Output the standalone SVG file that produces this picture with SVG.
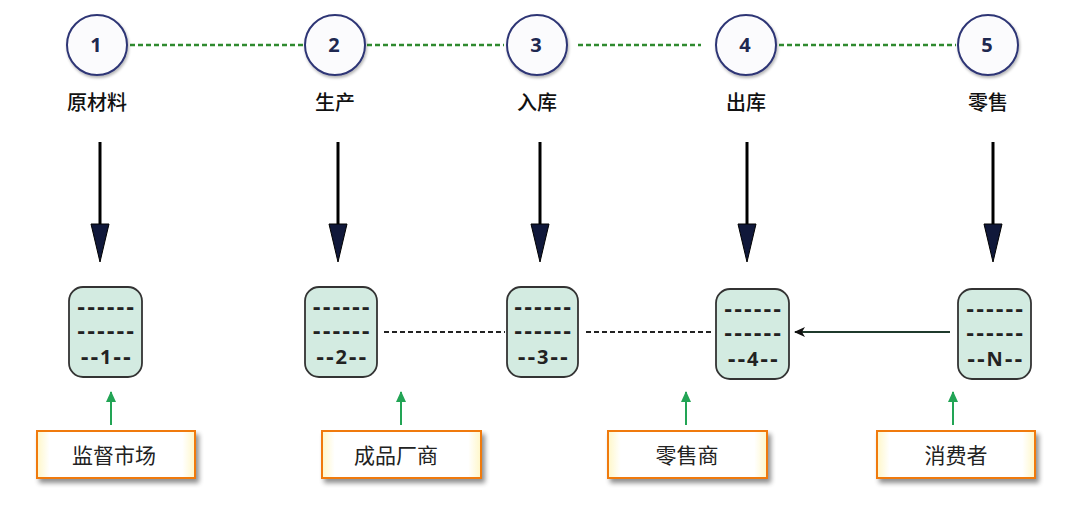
<svg xmlns="http://www.w3.org/2000/svg" width="1072" height="512" viewBox="0 0 1072 512">
<defs>
<style>
.circ{fill:#fbfbfd;stroke:#2d3575;stroke-width:2}
.num{font-family:"Open Sans","DejaVu Sans",sans-serif;font-weight:bold;font-size:20px;fill:#1e2850;text-anchor:middle}
.lbl{font-family:"Noto Sans CJK SC",sans-serif;font-size:20px;font-weight:500;fill:#111;text-anchor:middle}
.store{fill:#d3ebe1;stroke:#333;stroke-width:1.8}
.dash{font-family:"DejaVu Sans",sans-serif;font-weight:bold;font-size:20px;fill:#222;text-anchor:middle;letter-spacing:1.5px}
.snum{font-family:"Noto Sans","DejaVu Sans",sans-serif;font-weight:bold;font-size:20px;fill:#222;letter-spacing:1.5px}
.org{fill:url(#og);stroke:#f07a10;stroke-width:2}
.olbl{font-family:"Noto Sans CJK SC",sans-serif;font-size:21px;fill:#222;text-anchor:middle}
.gdot{stroke:#2f8a2f;stroke-width:2.5;stroke-dasharray:5,3;fill:none}
.bdash{stroke:#222;stroke-width:2;stroke-dasharray:5,3;fill:none}
.down{stroke:#000;stroke-width:3;fill:none}
.head{fill:#10183a;stroke:#000;stroke-width:1}
.up{stroke:#22a455;stroke-width:2;fill:none}
</style>
<linearGradient id="og" x1="0" y1="0" x2="1" y2="0">
<stop offset="0" stop-color="#fff7c8"/><stop offset="0.08" stop-color="#ffffff"/><stop offset="0.92" stop-color="#ffffff"/><stop offset="1" stop-color="#fff7c8"/>
</linearGradient>
<filter id="sh" x="-10%" y="-10%" width="130%" height="140%">
<feGaussianBlur in="SourceAlpha" stdDeviation="2.5"/><feOffset dx="3" dy="4"/>
<feComponentTransfer><feFuncA type="linear" slope="0.45"/></feComponentTransfer>
<feMerge><feMergeNode/><feMergeNode in="SourceGraphic"/></feMerge>
</filter>
<filter id="csh" x="-20%" y="-20%" width="150%" height="150%">
<feGaussianBlur in="SourceAlpha" stdDeviation="1.5"/><feOffset dx="1" dy="2"/>
<feComponentTransfer><feFuncA type="linear" slope="0.3"/></feComponentTransfer>
<feMerge><feMergeNode/><feMergeNode in="SourceGraphic"/></feMerge>
</filter>
<marker id="gHead" markerWidth="12" markerHeight="12" refX="6" refY="1" orient="0" markerUnits="userSpaceOnUse" viewBox="0 0 12 12">
<path d="M6,0 L11,11 L1,11 Z" fill="#22a455"/>
</marker>
<marker id="kHead" markerWidth="12" markerHeight="12" refX="1" refY="6" orient="0" markerUnits="userSpaceOnUse" viewBox="0 0 12 12">
<path d="M0,6 L11,1 L8,6 L11,11 Z" fill="#111"/>
</marker>
</defs>
<rect width="1072" height="512" fill="#ffffff"/>

<g id="connectors">
<line class="gdot" x1="130" y1="45" x2="303" y2="45"/>
<line class="gdot" x1="367" y1="45" x2="504" y2="45"/>
<line class="gdot" x1="578" y1="45" x2="701" y2="45"/>
<line class="gdot" x1="779" y1="45" x2="956" y2="45"/>
<line class="down" x1="100" y1="142" x2="100" y2="226"/><polygon class="head" points="91,224 109,224 100,262"/>
<line class="down" x1="338" y1="142" x2="338" y2="226"/><polygon class="head" points="329,224 347,224 338,262"/>
<line class="down" x1="540" y1="142" x2="540" y2="226"/><polygon class="head" points="531,224 549,224 540,262"/>
<line class="down" x1="747" y1="142" x2="747" y2="226"/><polygon class="head" points="738,224 756,224 747,262"/>
<line class="down" x1="993" y1="142" x2="993" y2="226"/><polygon class="head" points="984,224 1002,224 993,262"/>
<line class="bdash" x1="384" y1="332" x2="505" y2="332"/>
<line class="bdash" x1="586" y1="332" x2="713" y2="332"/>
<line x1="950" y1="332" x2="795" y2="332" stroke="#1f3a2c" stroke-width="2" marker-end="url(#kHead)"/>
<line class="up" x1="111" y1="425" x2="111" y2="392" marker-end="url(#gHead)"/>
<line class="up" x1="401" y1="425" x2="401" y2="392" marker-end="url(#gHead)"/>
<line class="up" x1="686" y1="425" x2="686" y2="392" marker-end="url(#gHead)"/>
<line class="up" x1="953" y1="425" x2="953" y2="392" marker-end="url(#gHead)"/>
</g>

<g id="step1"><circle class="circ" cx="97" cy="45" r="30" filter="url(#csh)"/><text class="num" x="96" y="52">1</text><text class="lbl" x="97" y="110">原材料</text></g>
<g id="step2"><circle class="circ" cx="335" cy="45" r="30" filter="url(#csh)"/><text class="num" x="334" y="52">2</text><text class="lbl" x="335" y="110">生产</text></g>
<g id="step3"><circle class="circ" cx="537" cy="45" r="30" filter="url(#csh)"/><text class="num" x="536" y="52">3</text><text class="lbl" x="537" y="110">入库</text></g>
<g id="step4"><circle class="circ" cx="746" cy="45" r="30" filter="url(#csh)"/><text class="num" x="745" y="52">4</text><text class="lbl" x="746" y="110">出库</text></g>
<g id="step5"><circle class="circ" cx="988" cy="45" r="30" filter="url(#csh)"/><text class="num" x="987" y="52">5</text><text class="lbl" x="988" y="110">零售</text></g>

<g id="store1"><rect class="store" x="69" y="287" width="73" height="90" rx="14"/><text class="dash" x="106.5" y="314">------</text><text class="dash" x="106.5" y="338">------</text><text class="dash" x="106.5" y="364">--<tspan class="snum">1</tspan>--</text></g>
<g id="store2"><rect class="store" x="305" y="287" width="72" height="90" rx="14"/><text class="dash" x="342" y="314">------</text><text class="dash" x="342" y="338">------</text><text class="dash" x="342" y="364">--<tspan class="snum">2</tspan>--</text></g>
<g id="store3"><rect class="store" x="507" y="287" width="71" height="90" rx="14"/><text class="dash" x="543.5" y="314">------</text><text class="dash" x="543.5" y="338">------</text><text class="dash" x="543.5" y="364">--<tspan class="snum">3</tspan>--</text></g>
<g id="store4"><rect class="store" x="716" y="289" width="73" height="90" rx="14"/><text class="dash" x="753.5" y="316">------</text><text class="dash" x="753.5" y="340">------</text><text class="dash" x="753.5" y="366">--<tspan class="snum">4</tspan>--</text></g>
<g id="storeN"><rect class="store" x="958" y="289" width="73" height="90" rx="14"/><text class="dash" x="995.5" y="316">------</text><text class="dash" x="995.5" y="340">------</text><text class="dash" x="995.5" y="366">--<tspan class="snum">N</tspan>--</text></g>

<g id="src1"><rect class="org" x="37" y="431" width="158" height="47" filter="url(#sh)"/><text class="olbl" x="114" y="463">监督市场</text></g>
<g id="src2"><rect class="org" x="322" y="431" width="159" height="47" filter="url(#sh)"/><text class="olbl" x="396" y="463">成品厂商</text></g>
<g id="src3"><rect class="org" x="608" y="431" width="159" height="47" filter="url(#sh)"/><text class="olbl" x="687" y="463">零售商</text></g>
<g id="src4"><rect class="org" x="877" y="431" width="158" height="47" filter="url(#sh)"/><text class="olbl" x="956" y="463">消费者</text></g>
</svg>
